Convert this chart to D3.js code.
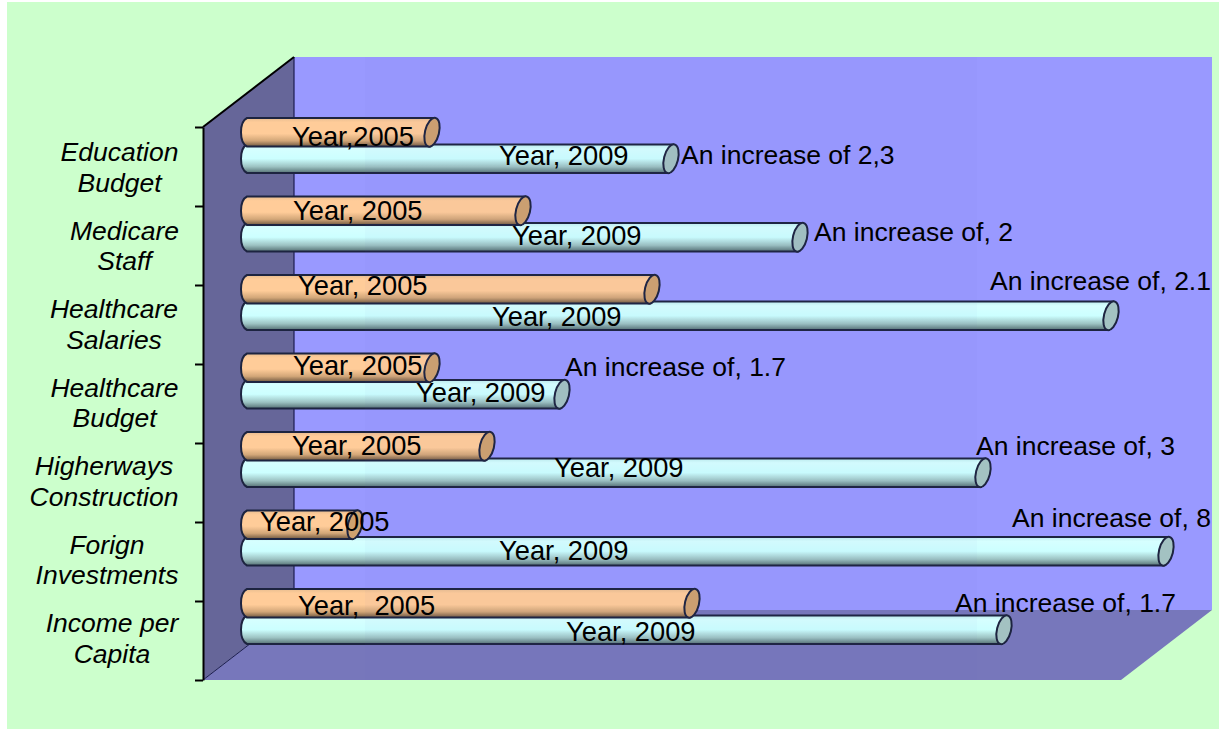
<!DOCTYPE html>
<html>
<head>
<meta charset="utf-8">
<script src="https://cdnjs.cloudflare.com/ajax/libs/d3/7.8.5/d3.min.js"></script>
<style>
html,body{margin:0;padding:0;background:#fff}
svg{display:block}
text{font-family:"Liberation Sans",Arial,sans-serif;fill:#000}
</style>
</head>
<body>
<svg id="chart" width="1219" height="729"></svg>
<script>
// Budget and economy indicators, index units
const categories = ["Education Budget","Medicare Staff","Healthcare Salaries","Healthcare Budget","Higherways Construction","Forign Investments","Income per Capita"];
const categoryLines = [["Education","Budget"],["Medicare","Staff"],["Healthcare","Salaries"],["Healthcare","Budget"],["Higherways","Construction"],["Forign","Investments"],["Income per","Capita"]];
const values2005 = [19.1,28.2,41.1,19.1,24.6,11.4,45.1];
const values2009 = [43.0,55.9,87.0,32.1,74.2,92.5,76.3];
const labels2005 = ["Year,2005","Year, 2005","Year, 2005","Year, 2005","Year, 2005","Year, 2005","Year,  2005"];
const labels2009 = ["Year, 2009","Year, 2009","Year, 2009","Year, 2009","Year, 2009","Year, 2009","Year, 2009"];
const increaseLabels = ["An increase of 2,3","An increase of, 2","An increase of, 2.1","An increase of, 1.7","An increase of, 3","An increase of, 8","An increase of, 1.7"];

// Hand placement of the free-floating annotations
const label2005X = [292,293,298,293,292,260,298];
const label2005Y = [146,220,295,375,455,531,615];
const label2009X = [499,512,492,416,554,499,566];
const label2009Y = [165,245,326,402,477,560,641];
const increaseX = [681,814,990,565,976,1012,955];
const increaseY = [164,241,290,376,455,527,612];
const catCenter = [119.5,124.5,114,114.5,104,107,112];

const W = 1219, H = 729;
const barH = 28.5, capRx = 7;
const wall = {x0:203, x1:294, y0:127, y1:680, dx:91, dy:70, right:1212};

const svg = d3.select("#chart");
const defs = svg.append("defs");

function barGradient(id, stops){
  const g = defs.append("linearGradient").attr("id",id).attr("x1",0).attr("x2",0).attr("y1",0).attr("y2",1);
  stops.forEach(([o,c]) => g.append("stop").attr("offset",o).attr("stop-color",c));
}
barGradient("g2005",[[0,"#e8bd90"],[.15,"#ffcc99"],[.55,"#ffcc99"],[.8,"#d2a678"],[1,"#705840"]]);
barGradient("g2009",[[0,"#bfeeee"],[.15,"#d6ffff"],[.5,"#ccffff"],[.78,"#9cc2c2"],[1,"#557073"]]);

// Page plate
svg.append("rect").attr("x",7).attr("y",2).attr("width",W-7).attr("height",H-2).attr("fill","#ccffcc");

// Back wall, side wall and floor of the 3D box
const line = d3.line();
svg.append("path").attr("d",line([[wall.x1,57],[wall.right,57],[wall.right,610],[wall.x1,610]])+"Z").attr("fill","#9999ff");
svg.append("path").attr("d",line([[wall.x1,610],[wall.right,610],[wall.right-wall.dx,680],[wall.x0,680]])+"Z").attr("fill","#7777bb");
svg.append("path").attr("d",line([[wall.x0,wall.y0],[wall.x1,57],[wall.x1,610],[wall.x0,680]])+"Z").attr("fill","#666699");
svg.append("path").attr("d",line([[wall.x1,57],[wall.x1,610]])).attr("fill","none").attr("stroke","#1c1c50").attr("stroke-width",1.2);
svg.append("path").attr("d",line([[wall.x0,wall.y0],[wall.x1,57]])).attr("fill","none").attr("stroke","#000").attr("stroke-width",2);
svg.append("path").attr("d",line([[wall.x1,610],[wall.x0,680]])).attr("fill","none").attr("stroke","#1c1c50").attr("stroke-width",1);

const x = d3.scaleLinear().domain([0,100]).range([241,1241]);
const yBand = d3.scaleBand().domain(categories).range([118,118+78.5*7]);

// Category axis: tick marks sit on the band boundaries, names are placed separately
const tickScale = d3.scaleLinear().domain([0,7]).range([wall.y0,wall.y1]);
const axis = svg.append("g").attr("transform",`translate(${wall.x0},0)`)
  .call(d3.axisLeft(tickScale).tickValues(d3.range(8)).tickFormat("").tickSize(8).tickSizeOuter(0));
axis.selectAll("path,line").attr("stroke","#000").attr("stroke-width",2);

categoryLines.forEach((lines,i) => {
  const top = yBand(categories[i]);
  const t = svg.append("text").attr("text-anchor","middle").attr("font-style","italic").attr("font-size",26.5);
  lines.forEach((s,j) => t.append("tspan").attr("x",catCenter[i]).attr("y",top+43+j*30.5).text(s));
});

// One cylinder: rounded start, body, and a visible elliptical end cap
function cylinder(g, y0, xEnd, fill, capFill){
  const r = barH/2, xs = x(0);
  g.append("path")
    .attr("d",`M${xs+6},${y0} L${xEnd+2},${y0} L${xEnd-2},${y0+barH} L${xs+6},${y0+barH} Q${xs},${y0+barH-3} ${xs},${y0+r} Q${xs},${y0+3} ${xs+6},${y0} Z`)
    .attr("fill",`url(#${fill})`).attr("stroke","#1d2440").attr("stroke-width",2);
  g.append("ellipse").attr("cx",xEnd).attr("cy",y0+r).attr("rx",capRx).attr("ry",r+0.5)
    .attr("transform",`rotate(14 ${xEnd} ${y0+r})`)
    .attr("fill",capFill).attr("stroke","#1d2440").attr("stroke-width",2);
}

const barsLayer = svg.append("g");
categories.forEach((c,i) => {
  const top = yBand(c);
  const g = barsLayer.append("g");
  cylinder(g, top+26.5, x(values2009[i]), "g2009", "#a3c2c2");
  cylinder(g, top, x(values2005[i]), "g2005", "#cfa26f");
});

// Faint tinted panel across the central portion of the plot
svg.append("rect").attr("x",365).attr("y",57).attr("width",612).attr("height",623)
  .attr("fill","#6f6fb0").attr("opacity",.03);

// Annotations over the bars
categories.forEach((c,i) => {
  svg.append("text").attr("x",label2005X[i]).attr("y",label2005Y[i]).attr("font-size",27.3).style("white-space","pre").text(labels2005[i]);
  svg.append("text").attr("x",label2009X[i]).attr("y",label2009Y[i]).attr("font-size",27.3).text(labels2009[i]);
  svg.append("text").attr("x",increaseX[i]).attr("y",increaseY[i]).attr("font-size",26.5).text(increaseLabels[i]);
});
</script>
</body>
</html>
